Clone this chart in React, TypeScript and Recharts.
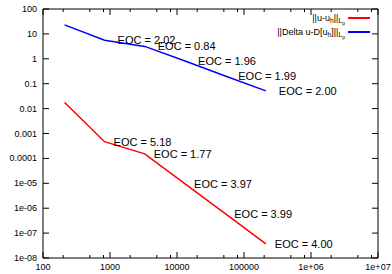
import React from 'react';
import {
  LineChart,
  Line,
  XAxis,
  YAxis,
  LabelList,
} from 'recharts';

const dofs = [210, 830, 3300, 13200, 52500, 212000];
const errL2 = [0.0175, 0.00047, 0.000152, 9.5e-6, 6e-7, 3.7e-8];
const errLap = [23, 5.6, 3.15, 0.81, 0.205, 0.0515];
const eocL2 = ['5.18', '1.77', '3.97', '3.99', '4.00'];
const eocLap = ['2.02', '0.84', '1.96', '1.99', '2.00'];

const xMajor = [100, 1000, 10000, 100000, 1e6, 1e7];
const xMajorLabels = ['100', '1000', '10000', '100000', '1e+06', '1e+07'];
const xMinor = [200, 500, 800, 2000, 5000, 8000, 20000, 50000, 80000, 200000, 500000, 800000, 2e6, 5e6, 8e6];
const yTicks = [1e-8, 1e-7, 1e-6, 1e-5, 1e-4, 1e-3, 1e-2, 0.1, 1, 10, 100];
const yTickLabels = ['1e-08', '1e-07', '1e-06', '1e-05', '0.0001', '0.001', '0.01', '0.1', '1', '10', '100'];

const FONT = '"Liberation Sans", Arial, Helvetica, sans-serif';
const RED = '#ff0000';
const BLUE = '#0000ff';

const data = dofs.map((n, i) => ({ n, l2: errL2[i], lap: errLap[i] }));
const xTicks = [...xMajor, ...xMinor].sort((a, b) => a - b);

const majorIndex = (v: number) => xMajor.findIndex((m) => Math.abs(m - v) / m < 1e-6);

const BottomTick = (props: any) => {
  const { x, y, payload } = props;
  const i = majorIndex(payload.value);
  const len = i >= 0 ? 6 : 3;
  return (
    <g>
      <line x1={x} x2={x} y1={y} y2={y - len} stroke="#000" strokeWidth={1} />
      {i >= 0 && (
        <text x={x} y={y + 9} textAnchor="middle" dominantBaseline="central" fontSize={9} fontFamily={FONT} fill="#000">
          {xMajorLabels[i]}
        </text>
      )}
    </g>
  );
};

const TopTick = (props: any) => {
  const { x, y, payload } = props;
  const len = majorIndex(payload.value) >= 0 ? 6 : 3;
  return <line x1={x} x2={x} y1={y} y2={y + len} stroke="#000" strokeWidth={1} />;
};

const LeftTick = (props: any) => {
  const { x, y, index } = props;
  return (
    <g>
      <line x1={x} x2={x + 6} y1={y} y2={y} stroke="#000" strokeWidth={1} />
      <text x={x - 6} y={y} textAnchor="end" dominantBaseline="central" fontSize={9} fontFamily={FONT} fill="#000">
        {yTickLabels[index]}
      </text>
    </g>
  );
};

const RightTick = (props: any) => {
  const { x, y } = props;
  return <line x1={x} x2={x - 6} y1={y} y2={y} stroke="#000" strokeWidth={1} />;
};

const eocLabel = (labels: string[], dx: number) => (props: any) => {
  const { x, y, index } = props;
  if (!index) return null;
  return (
    <text x={x + dx} y={y} dominantBaseline="central" fontSize={11} fontFamily={FONT} fill="#000">
      {`EOC = ${labels[index - 1]}`}
    </text>
  );
};

const LegendBox = () => {
  const row = (content: React.ReactNode, color: string) => (
    <div style={{ display: 'flex', alignItems: 'center', justifyContent: 'flex-end', height: 14 }}>
      <span style={{ whiteSpace: 'nowrap' }}>{content}</span>
      <span style={{ display: 'inline-block', width: 22, height: 2, background: color, marginLeft: 3 }} />
    </div>
  );
  const sub: React.CSSProperties = { fontSize: '0.75em', verticalAlign: '-0.3em', lineHeight: 0 };
  return (
    <div
      style={{
        position: 'absolute',
        top: 11,
        left: 240,
        width: 130,
        fontFamily: FONT,
        fontSize: 9,
        color: '#000',
      }}
    >
      {row(
        <>
          ||u-u<span style={sub}>h</span>||<span style={sub}>L<span style={sub}>p</span></span>
        </>,
        RED
      )}
      {row(
        <>
          ||Delta u-D[u<span style={sub}>h</span>]||<span style={sub}>L<span style={sub}>p</span></span>
        </>,
        BLUE
      )}
    </div>
  );
};

export default function App() {
  return (
    <div style={{ position: 'absolute', left: 0, top: 0, width: 392, height: 274, background: '#fff' }}>
      <LineChart width={392} height={274} data={data} margin={{ top: 0, right: 0, bottom: 0, left: 0 }}>
        <XAxis
          dataKey="n"
          type="number"
          scale="log"
          domain={[100, 1e7]}
          allowDataOverflow
          ticks={xTicks}
          interval={0}
          height={16}
          tickSize={0}
          tickMargin={0}
          tickLine={false}
          axisLine={{ stroke: '#000' }}
          tick={<BottomTick />}
        />
        <XAxis
          xAxisId="top"
          orientation="top"
          dataKey="n"
          type="number"
          scale="log"
          domain={[100, 1e7]}
          allowDataOverflow
          ticks={xTicks}
          interval={0}
          height={9}
          tickSize={0}
          tickMargin={0}
          tickLine={false}
          axisLine={{ stroke: '#000' }}
          tick={<TopTick />}
        />
        <YAxis
          type="number"
          scale="log"
          domain={[1e-8, 100]}
          allowDataOverflow
          ticks={yTicks}
          interval={0}
          width={43}
          tickSize={0}
          tickMargin={0}
          tickLine={false}
          axisLine={{ stroke: '#000' }}
          tick={<LeftTick />}
        />
        <YAxis
          yAxisId="right"
          orientation="right"
          type="number"
          scale="log"
          domain={[1e-8, 100]}
          allowDataOverflow
          ticks={yTicks}
          interval={0}
          width={14}
          tickSize={0}
          tickMargin={0}
          tickLine={false}
          axisLine={{ stroke: '#000' }}
          tick={<RightTick />}
        />
        <Line
          dataKey="l2"
          stroke={RED}
          strokeWidth={1.5}
          dot={false}
          isAnimationActive={false}
        >
          <LabelList dataKey="l2" content={eocLabel(eocL2, 9)} />
        </Line>
        <Line
          dataKey="lap"
          stroke={BLUE}
          strokeWidth={1.5}
          dot={false}
          isAnimationActive={false}
        >
          <LabelList dataKey="lap" content={eocLabel(eocLap, 13)} />
        </Line>
      </LineChart>
      <LegendBox />
    </div>
  );
}
